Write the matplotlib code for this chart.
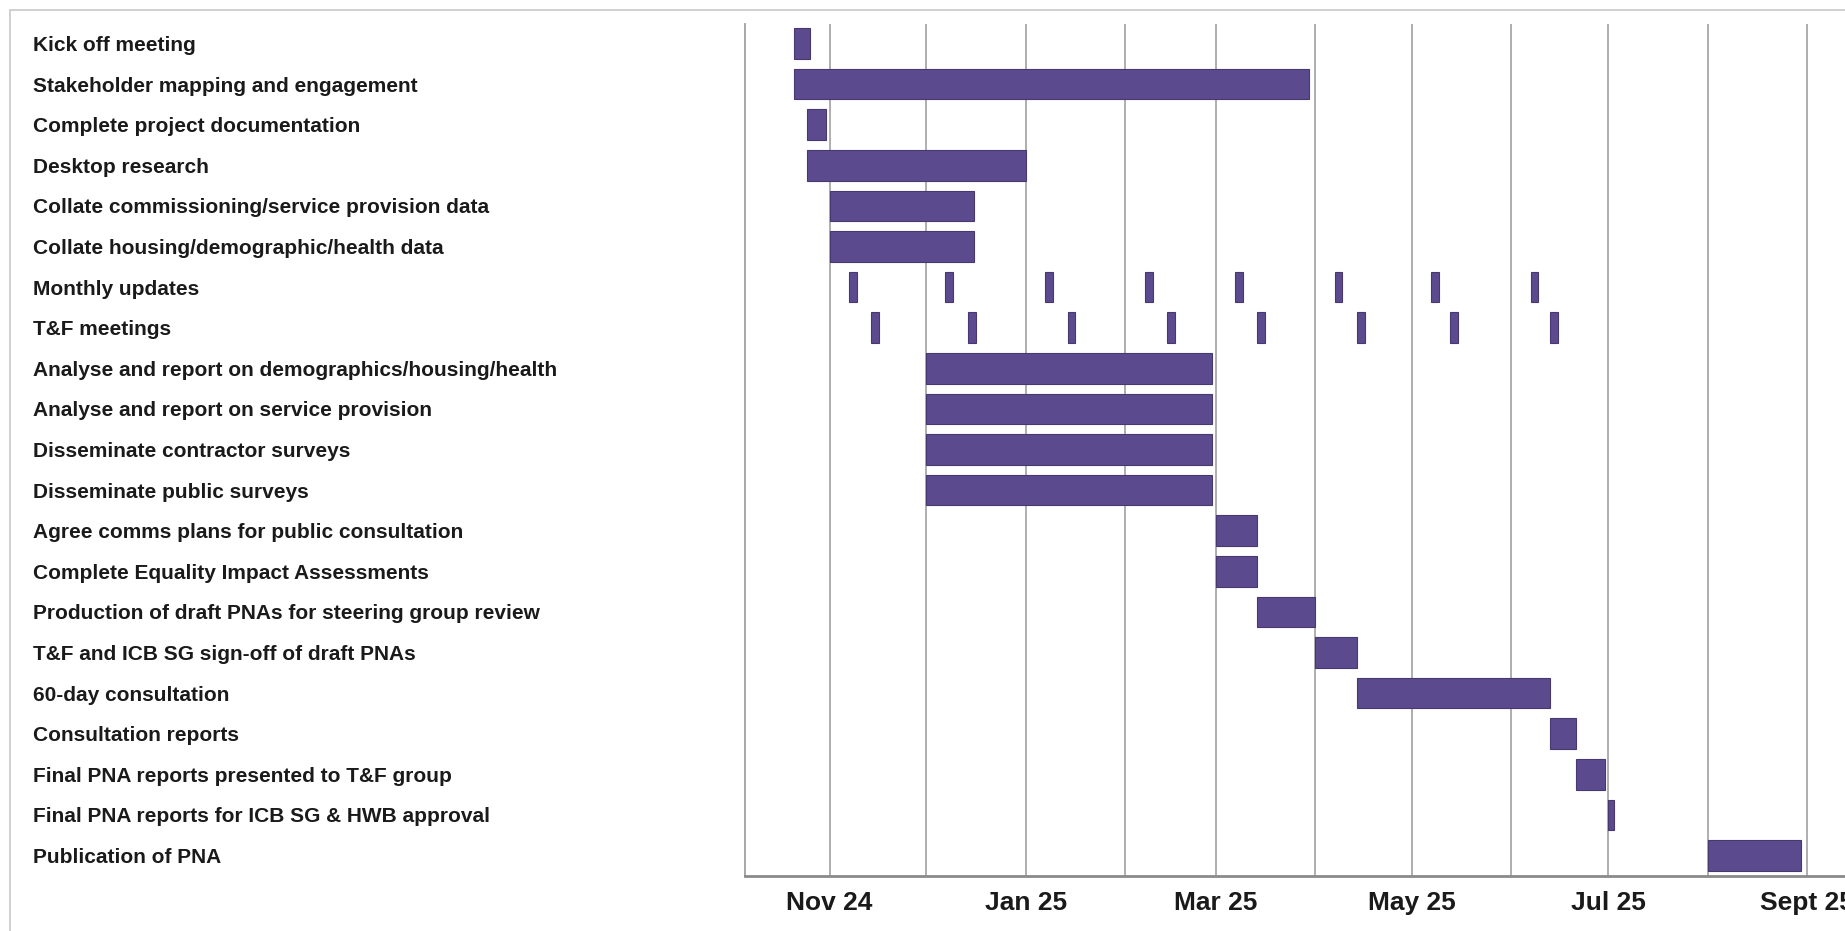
import datetime as dt
import matplotlib
matplotlib.use("Agg")
from matplotlib import pyplot as plt
from matplotlib import dates as mdates
from matplotlib import transforms
from matplotlib.patches import Rectangle

tasks = ["Kick off meeting", "Stakeholder mapping and engagement", "Complete project documentation",
         "Desktop research", "Collate commissioning/service provision data",
         "Collate housing/demographic/health data", "Monthly updates", "T&F meetings",
         "Analyse and report on demographics/housing/health", "Analyse and report on service provision",
         "Disseminate contractor surveys", "Disseminate public surveys",
         "Agree comms plans for public consultation", "Complete Equality Impact Assessments",
         "Production of draft PNAs for steering group review", "T&F and ICB SG sign-off of draft PNAs",
         "60-day consultation", "Consultation reports", "Final PNA reports presented to T&F group",
         "Final PNA reports for ICB SG & HWB approval", "Publication of PNA"]

# start / end of the single bars (None for the recurring rows)
starts = ["2024-10-21", "2024-10-21", "2024-10-25", "2024-10-25", "2024-11-01", "2024-11-01", None, None,
          "2024-12-01", "2024-12-01", "2024-12-01", "2024-12-01", "2025-03-01", "2025-03-01",
          "2025-03-14", "2025-04-01", "2025-04-14", "2025-06-13", "2025-06-21", "2025-07-01", "2025-08-01"]
ends = ["2024-10-26", "2025-03-30", "2024-10-31", "2025-01-01", "2024-12-16", "2024-12-16", None, None,
        "2025-02-28", "2025-02-28", "2025-02-28", "2025-02-28", "2025-03-14", "2025-03-14",
        "2025-04-01", "2025-04-14", "2025-06-13", "2025-06-21", "2025-06-30", "2025-07-03", "2025-08-30"]

update_dates = ["2024-11-07", "2024-12-07", "2025-01-07", "2025-02-07",
                "2025-03-07", "2025-04-07", "2025-05-07", "2025-06-07"]
meeting_dates = ["2024-11-14", "2024-12-14", "2025-01-14", "2025-02-14",
                 "2025-03-14", "2025-04-14", "2025-05-13", "2025-06-13"]
event_days = 2.4

month_ticks = ["2024-11-01", "2024-12-01", "2025-01-01", "2025-02-01", "2025-03-01", "2025-04-01",
               "2025-05-01", "2025-06-01", "2025-07-01", "2025-08-01", "2025-09-01"]
month_labels = ["Nov 24", "", "Jan 25", "", "Mar 25", "", "May 25", "", "Jul 25", "", "Sept 25"]


def num(s):
    return mdates.date2num(dt.datetime.strptime(s, "%Y-%m-%d"))


bar_color = "#5c4a8e"
edge_color = "#47386f"

fig = plt.figure(figsize=(18.45, 9.31), dpi=100)
ax = fig.add_axes([745 / 1845, 55 / 931, 1 - 745 / 1845, 852 / 931])

for i, (s, e) in enumerate(zip(starts, ends)):
    if s is None:
        continue
    ax.barh(i, num(e) - num(s), left=num(s), height=0.75, color=bar_color,
            edgecolor=edge_color, linewidth=0.8, zorder=3)

row_up = tasks.index("Monthly updates")
row_tf = tasks.index("T&F meetings")
for d in update_dates:
    ax.barh(row_up, event_days, left=num(d), height=0.75, color=bar_color,
            edgecolor=edge_color, linewidth=0.8, zorder=3)
for d in meeting_dates:
    ax.barh(row_tf, event_days, left=num(d), height=0.75, color=bar_color,
            edgecolor=edge_color, linewidth=0.8, zorder=3)

# axes ranges
nov1 = num("2024-11-01")
ax.set_xlim(nov1 - 26.3, nov1 + 315.7)
ax.set_ylim(len(tasks) - 1 + 0.505, -0.48)

ax.set_xticks([num(m) for m in month_ticks])
ax.set_xticklabels(month_labels, fontfamily="Liberation Sans",
                   fontweight="bold", fontsize=19, color="#1a1a1a")
ax.tick_params(axis="x", length=0, pad=11)
ax.set_yticks([])
ax.grid(axis="x", color="#a8a8a8", linewidth=1.3, zorder=0)

for side in ["top", "right"]:
    ax.spines[side].set_visible(False)
ax.spines["left"].set_color("#a0a0a0")
ax.spines["left"].set_linewidth(1.3)
ax.spines["bottom"].set_color("#8a8a8a")
ax.spines["bottom"].set_linewidth(2)

# task names on the left
trans = transforms.blended_transform_factory(fig.transFigure, ax.transData)
for i, t in enumerate(tasks):
    fig.text(33 / 1845, i, t, transform=trans, ha="left", va="center_baseline",
             fontsize=15, fontweight="bold", fontfamily="Liberation Sans", color="#1a1a1a")

# thin frame round the picture
fig.patches.append(Rectangle((10 / 1845, -0.1), 1.2, 1.1 - 10 / 931, transform=fig.transFigure,
                             fill=False, edgecolor="#c8c8c8", linewidth=1.2))

plt.savefig("out.png", dpi=100)
